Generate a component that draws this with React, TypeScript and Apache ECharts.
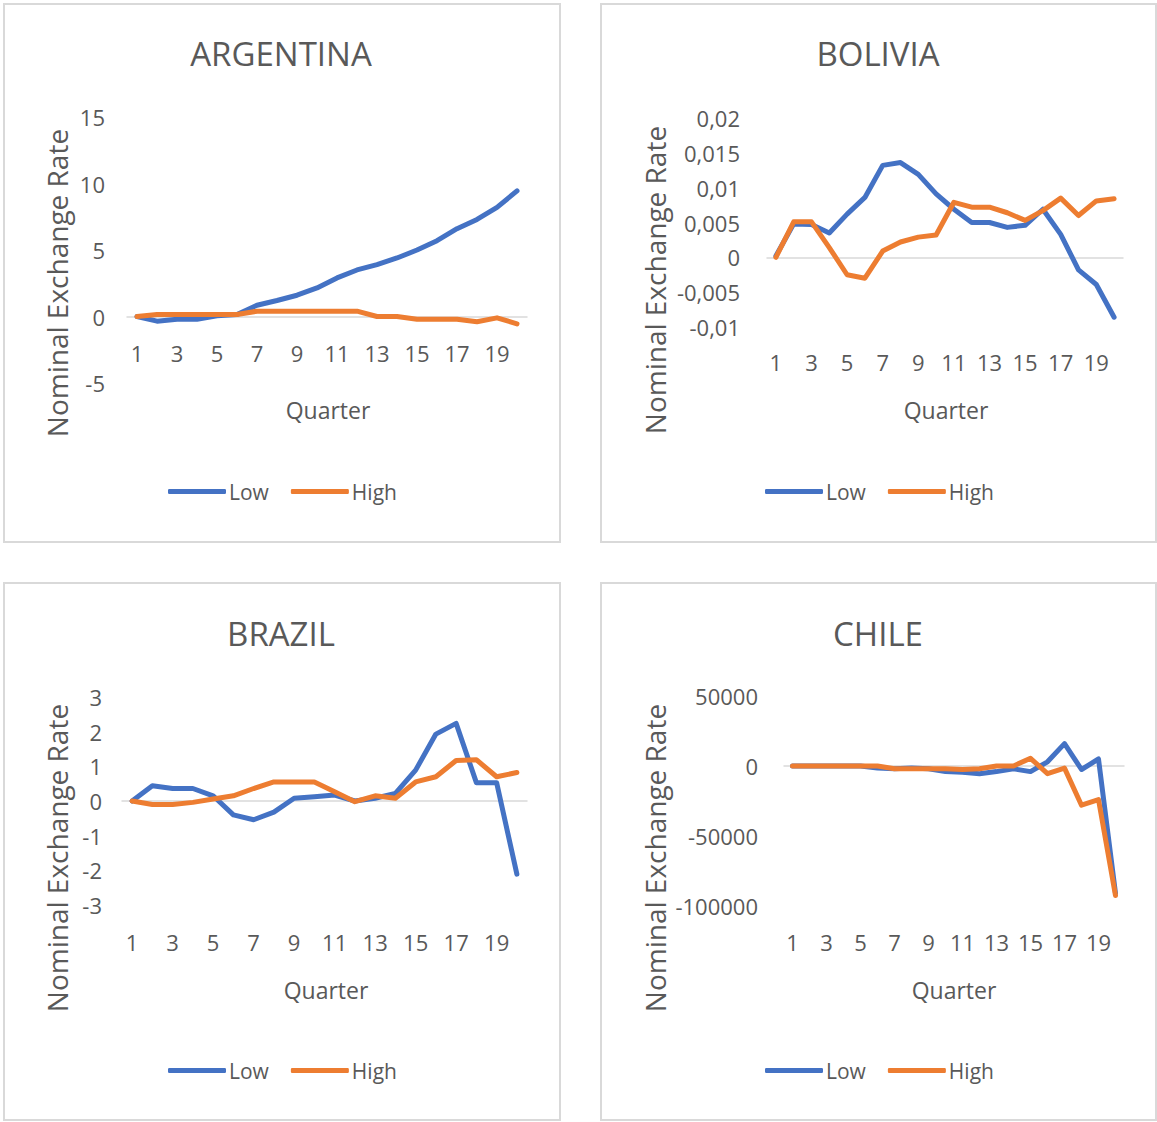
import React, { useEffect, useRef } from "react";
import * as echarts from "echarts";

const quarters = ["1","2","3","4","5","6","7","8","9","10","11","12","13","14","15","16","17","18","19","20"];

const argentinaLow = [0, -0.35, -0.2, -0.2, 0.05, 0.15, 0.85, 1.2, 1.6, 2.15, 2.9, 3.5, 3.9, 4.4, 5.0, 5.7, 6.6, 7.3, 8.2, 9.45];
const argentinaHigh = [0, 0.15, 0.15, 0.15, 0.15, 0.15, 0.4, 0.4, 0.4, 0.4, 0.4, 0.4, 0, 0, -0.2, -0.2, -0.2, -0.4, -0.1, -0.55];

const boliviaLow = [0.0002, 0.0048, 0.0047, 0.0035, 0.0062, 0.0086, 0.0132, 0.0136, 0.0119, 0.0091, 0.0069, 0.005, 0.005, 0.0043, 0.0046, 0.0069, 0.0033, -0.0018, -0.0039, -0.0086];
const boliviaHigh = [0, 0.0051, 0.0051, 0.0014, -0.0025, -0.003, 0.0009, 0.0022, 0.0029, 0.0032, 0.0079, 0.0072, 0.0072, 0.0064, 0.0053, 0.0067, 0.0085, 0.006, 0.0081, 0.0084];

const brazilLow = [0, 0.44, 0.36, 0.36, 0.15, -0.4, -0.54, -0.32, 0.08, 0.12, 0.17, 0, 0.08, 0.22, 0.89, 1.93, 2.24, 0.53, 0.53, -2.11];
const brazilHigh = [0, -0.1, -0.1, -0.04, 0.06, 0.15, 0.36, 0.55, 0.55, 0.55, 0.27, -0.02, 0.15, 0.08, 0.55, 0.7, 1.17, 1.19, 0.7, 0.82];

const chileLow = [0, 0, 0, 0, 0, -1500, -2000, -1500, -2000, -4000, -4500, -5500, -4000, -2000, -4000, 3000, 16000, -2500, 5000, -91000];
const chileHigh = [0, 0, 0, 0, 0, 0, -2000, -2000, -2000, -2000, -2500, -2000, 0, 0, 5500, -5500, -1500, -28000, -24000, -92500];

const titles = ["ARGENTINA", "BOLIVIA", "BRAZIL", "CHILE"];
const seriesNames = ["Low", "High"];
const yMins = [-5, -0.01, -3, -100000];
const yMaxs = [15, 0.02, 3, 50000];
const yIntervals = [5, 0.005, 1, 50000];

const BLUE = "#4472C4";
const ORANGE = "#ED7D31";
const TEXT = "#595959";
const FONT = "Open Sans";

const lowData = [argentinaLow, boliviaLow, brazilLow, chileLow];
const highData = [argentinaHigh, boliviaHigh, brazilHigh, chileHigh];

// layout per panel
const grids = [
  { left: 127, top: 117, width: 400, height: 266 },
  { left: 767, top: 118, width: 356, height: 209 },
  { left: 122, top: 697, width: 405, height: 208 },
  { left: 784, top: 696, width: 340, height: 210 },
];
const yLabelMargins = [22, 27, 20, 26];
const xLabelMargins = [-41, 24, 26, 25];
const panels = [
  { x: 4, y: 4, w: 556, h: 538 },
  { x: 601, y: 4, w: 555, h: 538 },
  { x: 4, y: 583, w: 556, h: 537 },
  { x: 601, y: 583, w: 555, h: 537 },
];
const titlePos = [[281, 53], [878, 53], [281, 633], [878, 633]];
const quarterPos = [[328, 410], [946, 410], [326, 990], [954, 990]];
const yNamePos = [[57, 283], [655, 280], [57, 858], [655, 858]];
const legendPos = [[163, 476], [760, 476], [163, 1055], [760, 1055]];

function fmt(v: number, i: number) {
  const r = parseFloat(v.toFixed(6));
  const s = String(r);
  return i === 1 ? s.replace(".", ",") : s;
}

export default function App() {
  const ref = useRef<HTMLDivElement>(null);
  useEffect(() => {
    document.body.style.margin = "0";
    const chart = echarts.init(ref.current!, undefined, { renderer: "svg" });
    const graphic: any[] = [];
    panels.forEach((p) => {
      graphic.push({
        type: "rect",
        shape: { x: p.x, y: p.y, width: p.w, height: p.h },
        style: { fill: "#fff", stroke: "#d9d9d9", lineWidth: 2 },
        z: -10,
      });
    });
    titles.forEach((t, i) => {
      graphic.push({
        type: "text",
        x: titlePos[i][0],
        y: titlePos[i][1],
        style: { text: t, fill: TEXT, font: `33px "${FONT}"`, align: "center", verticalAlign: "middle" },
      });
      graphic.push({
        type: "text",
        x: quarterPos[i][0],
        y: quarterPos[i][1],
        style: { text: "Quarter", fill: TEXT, font: `23px "${FONT}"`, align: "center", verticalAlign: "middle" },
      });
      graphic.push({
        type: "text",
        x: yNamePos[i][0],
        y: yNamePos[i][1],
        rotation: Math.PI / 2,
        style: { text: "Nominal Exchange Rate", fill: TEXT, font: `28px "${FONT}"`, align: "center", verticalAlign: "middle" },
      });
    });

    const option: any = {
      animation: false,
      backgroundColor: "#fff",
      graphic,
      grid: grids.map((g) => ({ ...g, containLabel: false })),
      legend: legendPos.map((lp) => ({
        left: lp[0],
        top: lp[1],
        data: seriesNames,
        icon: "roundRect",
        itemWidth: 58,
        itemHeight: 5,
        itemGap: 22,
        textStyle: { color: TEXT, fontSize: 21, fontFamily: FONT, padding: [0, 0, 0, -2] },
        selectedMode: false,
      })),
      xAxis: grids.map((_, i) => ({
        type: "category",
        gridIndex: i,
        data: quarters,
        boundaryGap: true,
        axisLine: { show: true, onZero: true, lineStyle: { color: "#d9d9d9", width: 1.5 } },
        axisTick: { show: false },
        axisLabel: { interval: 1, color: TEXT, fontSize: 22, fontFamily: FONT, margin: xLabelMargins[i] },
        splitLine: { show: false },
      })),
      yAxis: grids.map((_, i) => ({
        type: "value",
        gridIndex: i,
        min: yMins[i],
        max: yMaxs[i],
        interval: yIntervals[i],
        axisLine: { show: false },
        axisTick: { show: false },
        splitLine: { show: false },
        axisLabel: {
          color: TEXT,
          fontSize: 22,
          fontFamily: FONT,
          margin: yLabelMargins[i],
          formatter: (v: number) => fmt(v, i),
        },
      })),
      series: grids.flatMap((_, i) => [
        {
          name: "Low",
          type: "line",
          xAxisIndex: i,
          yAxisIndex: i,
          data: lowData[i],
          symbol: "none",
          color: BLUE,
          lineStyle: { width: 5, color: BLUE, cap: "round", join: "round" },
        },
        {
          name: "High",
          type: "line",
          xAxisIndex: i,
          yAxisIndex: i,
          data: highData[i],
          symbol: "none",
          color: ORANGE,
          lineStyle: { width: 5, color: ORANGE, cap: "round", join: "round" },
        },
      ]),
    };
    chart.setOption(option);
    return () => chart.dispose();
  }, []);
  return <div ref={ref} style={{ width: 1157, height: 1122 }} />;
}
